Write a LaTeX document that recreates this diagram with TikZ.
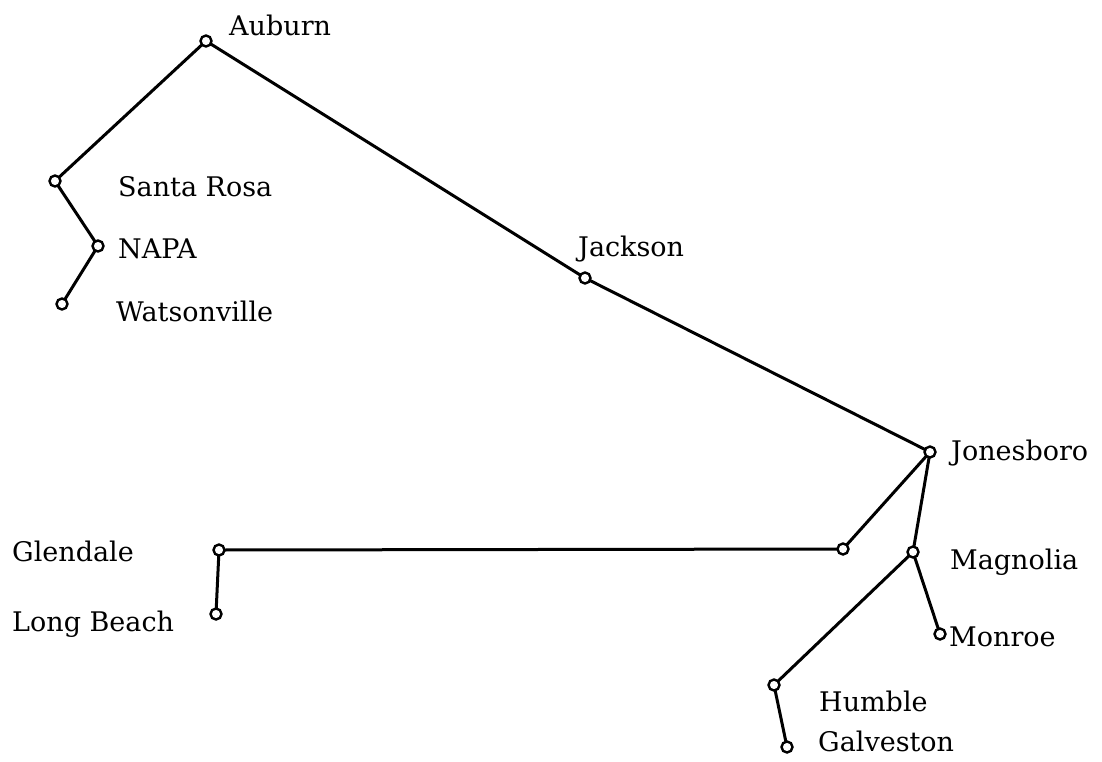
\documentclass[tikz,border=0pt]{standalone}
\usepackage{fontspec}
\setmainfont{DejaVu Serif}
\begin{document}
\begin{tikzpicture}[x=1pt,y=-1pt,
  stn/.style={circle,draw,fill=white,line width=2.4pt,inner sep=0pt,minimum size=11pt},
  lbl/.style={anchor=west,inner sep=0pt,font=\fontsize{27}{32}\selectfont},
  link/.style={line width=3pt}]
\useasboundingbox (0,0) rectangle (1102,761);
\coordinate (auburn) at (206,41);
\coordinate (santarosa) at (55,181);
\coordinate (napa) at (98,246);
\coordinate (watsonville) at (62,304);
\coordinate (jackson) at (585,278);
\coordinate (jonesboro) at (930,452);
\coordinate (bend) at (843,549);
\coordinate (glendale) at (219,550);
\coordinate (longbeach) at (216,614);
\coordinate (magnolia) at (913,552);
\coordinate (monroe) at (940,634);
\coordinate (humble) at (774,685);
\coordinate (galveston) at (787,747);
\draw[link] (auburn) -- (santarosa) -- (napa) -- (watsonville);
\draw[link] (auburn) -- (jackson) -- (jonesboro) -- (bend) -- (glendale) -- (longbeach);
\draw[link] (jonesboro) -- (magnolia) -- (monroe);
\draw[link] (magnolia) -- (humble) -- (galveston);
\foreach \n in {auburn,santarosa,napa,watsonville,jackson,jonesboro,bend,glendale,longbeach,magnolia,monroe,humble,galveston}
  \node[stn] (c-\n) at (\n) {};
\node[lbl] (l-auburn) at (229,25) {Auburn};
\node[lbl] (l-santarosa) at (118,187) {Santa Rosa};
\node[lbl] (l-napa) at (118,249) {NAPA};
\node[lbl] (l-watsonville) at (116,311) {Watsonville};
\node[lbl] (l-jackson) at (578,249) {Jackson};
\node[lbl] (l-jonesboro) at (951,453) {Jonesboro};
\node[lbl] (l-magnolia) at (950,562) {Magnolia};
\node[lbl] (l-monroe) at (949,637) {Monroe};
\node[lbl] (l-humble) at (819,701) {Humble};
\node[lbl] (l-galveston) at (818,741) {Galveston};
\node[lbl] (l-glendale) at (12,551) {Glendale};
\node[lbl] (l-longbeach) at (12,624) {Long Beach};
\end{tikzpicture}
\end{document}
